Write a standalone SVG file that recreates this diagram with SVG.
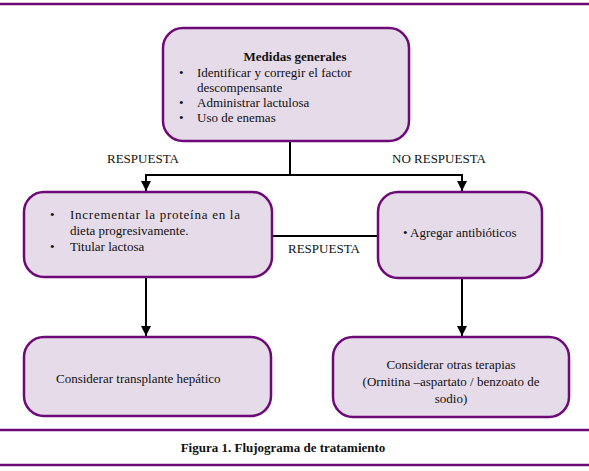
<svg xmlns="http://www.w3.org/2000/svg" width="589" height="471" viewBox="0 0 589 471">
<style>
.box{fill:#e6dbe9;stroke:#6e0a78;stroke-width:2.5}
.rule{stroke:#6e0a78;stroke-width:2.5}
.con{stroke:#000;stroke-width:2;fill:none}
text{font-family:"Liberation Serif","Times New Roman",serif;font-size:13px;fill:#111}
.b{font-weight:bold}
.m{text-anchor:middle}
</style>
<defs>
<marker id="ah" viewBox="0 0 10 10" refX="10" refY="5" markerWidth="5" markerHeight="5" orient="auto" markerUnits="strokeWidth">
<path d="M0,0 L10,5 L0,10 z" fill="#000"/>
</marker>
</defs>
<line class="rule" x1="0" y1="4" x2="589" y2="4"/>
<line class="rule" x1="0" y1="430" x2="589" y2="430"/>
<line class="rule" x1="0" y1="465" x2="589" y2="465"/>
<g id="connectors">
<line class="con" x1="290" y1="142" x2="290" y2="175"/>
<line class="con" x1="145" y1="175" x2="463" y2="175"/>
<line class="con" x1="146" y1="175" x2="146" y2="191" marker-end="url(#ah)"/>
<line class="con" x1="462" y1="175" x2="462" y2="191" marker-end="url(#ah)"/>
<line class="con" x1="272" y1="236" x2="378" y2="236"/>
<line class="con" x1="146" y1="277" x2="146" y2="336" marker-end="url(#ah)"/>
<line class="con" x1="462" y1="278" x2="462" y2="336" marker-end="url(#ah)"/>
<text x="107" y="163">RESPUESTA</text>
<text x="392" y="163">NO RESPUESTA</text>
<text x="288" y="253">RESPUESTA</text>
</g>
<g id="medidas">
<rect class="box" x="163" y="28" width="246" height="113" rx="20"/>
<text class="b m" x="295" y="61">Medidas generales</text>
<text x="179" y="77">•</text><text x="197" y="77">Identificar y corregir el factor</text>
<text x="197" y="92">descompensante</text>
<text x="179" y="107">•</text><text x="197" y="107">Administrar lactulosa</text>
<text x="179" y="122">•</text><text x="197" y="122">Uso de enemas</text>
</g>
<g id="incrementar">
<rect class="box" x="24" y="192" width="248" height="85" rx="20"/>
<text x="50" y="219">•</text><text x="70" y="219" textLength="170" lengthAdjust="spacing">Incrementar la proteína en la</text>
<text x="70" y="235">dieta progresivamente.</text>
<text x="50" y="251">•</text><text x="70" y="251">Titular lactosa</text>
</g>
<g id="antibioticos">
<rect class="box" x="378" y="192" width="164" height="86" rx="20"/>
<text x="403" y="237">• Agregar antibióticos</text>
</g>
<g id="transplante">
<rect class="box" x="24" y="337" width="247" height="79" rx="20"/>
<text x="56" y="383">Considerar transplante hepático</text>
</g>
<g id="otras">
<rect class="box" x="333" y="337" width="236" height="80" rx="20"/>
<text class="m" x="451" y="369">Considerar otras terapias</text>
<text class="m" x="451" y="386">(Ornitina –aspartato / benzoato de</text>
<text class="m" x="451" y="403">sodio)</text>
</g>
<text class="b m" x="283" y="452">Figura 1. Flujograma de tratamiento</text>
</svg>
